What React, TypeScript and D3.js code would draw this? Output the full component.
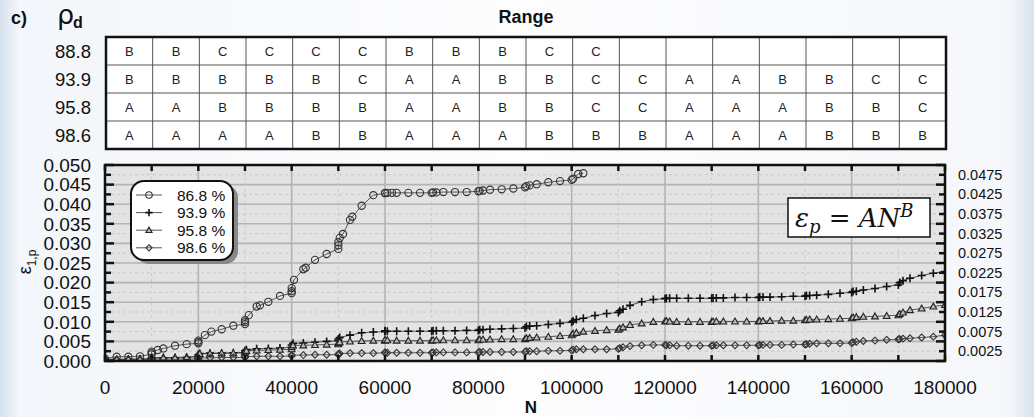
import React from "react";
import * as d3 from "d3";

// ---------- data ----------
const rowLabels = ["88.8", "93.9", "95.8", "98.6"];
const rangeRows: string[][] = [
  ["B","B","C","C","C","C","B","B","B","C","C","","","","","","",""],
  ["B","B","B","B","B","C","A","A","B","B","C","C","A","A","B","B","C","C"],
  ["A","A","B","B","B","B","A","A","B","B","C","C","A","A","A","B","B","C"],
  ["A","A","A","A","B","B","A","A","A","B","B","B","A","A","A","B","B","B"],
];
const seriesNames = ["86.8 %", "93.9 %", "95.8 %", "98.6 %"];
const xTicks = [0, 20000, 40000, 60000, 80000, 100000, 120000, 140000, 160000, 180000];
const yLeftTicks = [0, 0.005, 0.01, 0.015, 0.02, 0.025, 0.03, 0.035, 0.04, 0.045, 0.05];
const yRightTicks = [0.0025, 0.0075, 0.0125, 0.0175, 0.0225, 0.0275, 0.0325, 0.0375, 0.0425, 0.0475];

const s868: [number, number][] = [
  [0,0.0003],[0,0.0006],[2500,0.0011],[5000,0.0011],[7500,0.0012],[10000,0.0017],[10000,0.002],[10000,0.0024],
  [11300,0.0028],[12500,0.0032],[15000,0.0039],[17500,0.0043],[20000,0.0045],[20000,0.0048],[20000,0.0052],
  [21400,0.0066],[22800,0.0075],[25000,0.0081],[27500,0.009],[30000,0.0094],[30000,0.0099],[30000,0.0104],
  [30800,0.0117],[32500,0.0139],[33200,0.0142],[35000,0.0151],[37500,0.0166],[40000,0.0173],[40000,0.0178],
  [40000,0.0186],[40500,0.0207],[42500,0.0234],[43000,0.0238],[45000,0.0258],[47500,0.0273],[50000,0.0286],
  [50000,0.0295],[50000,0.0303],[50300,0.0314],[51000,0.0324],[52500,0.036],[53000,0.0368],[55000,0.0396],
  [57500,0.0423],[60000,0.0428],[60000,0.0429],[60500,0.0429],[61500,0.0429],[62500,0.0429],[65000,0.0429],
  [67500,0.0429],[70000,0.0429],[70300,0.043],[71000,0.043],[72500,0.0431],[75000,0.0431],[77500,0.0431],
  [80000,0.0433],[80300,0.0434],[81000,0.0435],[82500,0.0437],[85000,0.0438],[87500,0.044],[90000,0.0443],
  [90300,0.0446],[91000,0.0448],[92500,0.0451],[95000,0.0456],[97500,0.0459],[100000,0.0462],[100300,0.0465],
  [101400,0.0477],[102500,0.0479],
];
const s939: [number, number][] = [
  [0,0.0003],[0,0.0005],[2500,0.0004],[5000,0.0004],[7500,0.0005],[10000,0.0005],[10000,0.0008],[12500,0.0008],
  [15000,0.0008],[17500,0.0009],[20000,0.0012],[20000,0.0016],[20300,0.0019],[22500,0.002],[25000,0.002],
  [27500,0.0021],[30000,0.0022],[30000,0.0026],[30300,0.0029],[32500,0.0031],[35000,0.0032],[37500,0.0033],
  [40000,0.0035],[40000,0.0041],[40300,0.0045],[42500,0.0046],[45000,0.0048],[47500,0.005],[50000,0.0052],
  [50000,0.0056],[50300,0.006],[52500,0.0066],[55000,0.0072],[57500,0.0074],[60000,0.0075],[60000,0.0077],
  [60500,0.0076],[62500,0.0076],[65000,0.0076],[67500,0.0076],[70000,0.0076],[70300,0.0077],[71000,0.0077],
  [72500,0.0077],[75000,0.0077],[77500,0.0078],[80000,0.0078],[80300,0.008],[81000,0.008],[82500,0.0081],
  [85000,0.0082],[87500,0.0083],[90000,0.0084],[90300,0.0088],[91000,0.0089],[92500,0.009],[95000,0.0093],
  [97500,0.0096],[100000,0.0099],[100300,0.0102],[101000,0.0106],[102500,0.0109],[105000,0.0116],
  [107500,0.0121],[110000,0.0124],[110300,0.0128],[111000,0.0132],[112500,0.0142],[115000,0.0151],
  [117500,0.0157],[120000,0.0159],[120300,0.016],[121000,0.016],[122500,0.016],[125000,0.016],[127500,0.016],
  [130000,0.016],[130300,0.0161],[131000,0.0161],[132500,0.0161],[135000,0.0162],[137500,0.0162],
  [140000,0.0162],[140300,0.0163],[141000,0.0163],[142500,0.0163],[145000,0.0164],[147500,0.0165],
  [150000,0.0165],[150300,0.0167],[151000,0.0167],[152500,0.0168],[155000,0.017],[157500,0.0173],
  [160000,0.0175],[160300,0.0177],[161000,0.0178],[162500,0.0181],[165000,0.0185],[167500,0.019],
  [170000,0.0194],[170300,0.02],[171000,0.0205],[172500,0.0211],[175000,0.0218],[177500,0.0224],[180000,0.0228],
];
const s958: [number, number][] = [
  [0,0.0002],[0,0.0004],[2500,0.0004],[5000,0.0005],[7500,0.0005],[10000,0.0006],[10000,0.0008],[12500,0.0009],
  [15000,0.0009],[17500,0.001],[20000,0.0012],[20000,0.0016],[20300,0.0018],[22500,0.0019],[25000,0.002],
  [27500,0.002],[30000,0.0021],[30000,0.0024],[30300,0.0026],[32500,0.0027],[35000,0.0028],[37500,0.0029],
  [40000,0.003],[40000,0.0036],[40300,0.004],[42500,0.004],[45000,0.0041],[47500,0.0042],[50000,0.0043],
  [50000,0.0046],[50300,0.0048],[52500,0.005],[55000,0.0051],[57500,0.0052],[60000,0.0052],[60000,0.0054],
  [60500,0.0053],[62500,0.0052],[65000,0.0052],[67500,0.0052],[70000,0.0052],[70300,0.0053],[71000,0.0053],
  [72500,0.0053],[75000,0.0053],[77500,0.0053],[80000,0.0053],[80300,0.0055],[81000,0.0055],[82500,0.0055],
  [85000,0.0056],[87500,0.0056],[90000,0.0056],[90300,0.0058],[91000,0.0059],[92500,0.006],[95000,0.0062],
  [97500,0.0064],[100000,0.0066],[100300,0.007],[101000,0.0072],[102500,0.0075],[105000,0.0077],
  [107500,0.0079],[110000,0.008],[110300,0.0083],[111000,0.0086],[112500,0.0092],[115000,0.0096],
  [117500,0.01],[120000,0.0101],[120300,0.0102],[121000,0.0101],[122500,0.01],[125000,0.01],[127500,0.01],
  [130000,0.01],[130300,0.0101],[131000,0.0101],[132500,0.0101],[135000,0.0101],[137500,0.0101],
  [140000,0.0101],[140300,0.0102],[141000,0.0102],[142500,0.0102],[145000,0.0103],[147500,0.0103],
  [150000,0.0104],[150300,0.0105],[151000,0.0106],[152500,0.0106],[155000,0.0107],[157500,0.0108],
  [160000,0.0109],[160300,0.0111],[161000,0.0112],[162500,0.0113],[165000,0.0114],[167500,0.0115],
  [170000,0.0117],[170300,0.012],[171000,0.0124],[172500,0.013],[175000,0.0134],[177500,0.0139],[180000,0.0143],
];
const s986: [number, number][] = [
  [0,0.0002],[2500,0.0003],[5000,0.0003],[7500,0.0003],[10000,0.0003],[10000,0.0005],[12500,0.0005],
  [15000,0.0005],[17500,0.0005],[20000,0.0006],[20000,0.0008],[22500,0.0008],[25000,0.0009],[27500,0.0009],
  [30000,0.0009],[30000,0.0011],[32500,0.0012],[35000,0.0012],[37500,0.0012],[40000,0.0013],[40000,0.0015],
  [42500,0.0015],[45000,0.0016],[47500,0.0016],[50000,0.0016],[50000,0.0018],[50300,0.0019],[52500,0.002],
  [55000,0.002],[57500,0.002],[60000,0.0021],[60000,0.0022],[60500,0.0021],[62500,0.0021],[65000,0.0021],
  [67500,0.0021],[70000,0.0021],[70300,0.0022],[71000,0.0022],[72500,0.0022],[75000,0.0022],[77500,0.0022],
  [80000,0.0022],[80300,0.0023],[81000,0.0023],[82500,0.0023],[85000,0.0023],[87500,0.0023],[90000,0.0023],
  [90300,0.0025],[91000,0.0025],[92500,0.0025],[95000,0.0026],[97500,0.0026],[100000,0.0027],[100300,0.0029],
  [101000,0.003],[102500,0.003],[105000,0.003],[107500,0.003],[110000,0.0031],[110300,0.0033],[111000,0.0035],
  [112500,0.0038],[115000,0.004],[117500,0.0041],[120000,0.0041],[120300,0.004],[121000,0.004],[122500,0.0039],
  [125000,0.0039],[127500,0.0039],[130000,0.0039],[130300,0.004],[131000,0.004],[132500,0.004],[135000,0.004],
  [137500,0.004],[140000,0.004],[140300,0.0041],[141000,0.0041],[142500,0.0041],[145000,0.0041],
  [147500,0.0042],[150000,0.0042],[150300,0.0043],[151000,0.0044],[152500,0.0045],[155000,0.0045],
  [157500,0.0045],[160000,0.0046],[160300,0.0048],[161000,0.0049],[162500,0.0051],[165000,0.0052],
  [167500,0.0054],[170000,0.0055],[170300,0.0056],[171000,0.0057],[172500,0.0058],[175000,0.006],
  [177500,0.0062],[180000,0.0066],
];

// ---------- layout ----------
const W = 1034, H = 417;
const PL = 105, PR = 945, PT = 165, PB = 361;
const TT = 37, TB = 149;
const FONT = "'Liberation Sans', Arial, sans-serif";

type Kind = "circle" | "plus" | "tri" | "diamond";

function Marker({ kind, x, y, s = 1 }: { kind: Kind; x: number; y: number; s?: number }) {
  if (kind === "circle")
    return <circle cx={x} cy={y} r={3.6 * s} fill="none" stroke="#333" strokeWidth={1.1} />;
  if (kind === "plus") {
    const a = 4 * s;
    return (
      <path d={`M${x - a},${y}H${x + a}M${x},${y - a}V${y + a}`} stroke="#111" strokeWidth={1.6} />
    );
  }
  if (kind === "tri") {
    const a = 3.4 * s;
    return (
      <path
        d={`M${x},${y - a}L${x + a},${y + a * 0.75}L${x - a},${y + a * 0.75}Z`}
        fill="#bbb"
        stroke="#222"
        strokeWidth={1.1}
      />
    );
  }
  const a = 3.4 * s;
  return (
    <path
      d={`M${x},${y - a}L${x + a},${y}L${x},${y + a}L${x - a},${y}Z`}
      fill="none"
      stroke="#333"
      strokeWidth={1.1}
    />
  );
}

export default function App() {
  const x = d3.scaleLinear().domain([0, 180000]).range([PL, PR]);
  const y = d3.scaleLinear().domain([0, 0.05]).range([PB, PT]);
  const line = d3
    .line<[number, number]>()
    .x((d) => x(d[0]))
    .y((d) => y(d[1]));

  const series: { data: [number, number][]; kind: Kind }[] = [
    { data: s868, kind: "circle" },
    { data: s939, kind: "plus" },
    { data: s958, kind: "tri" },
    { data: s986, kind: "diamond" },
  ];

  const nCols = rangeRows[0].length;
  const col = d3.scaleLinear().domain([0, nCols]).range([PL + 1, PR + 1]);
  const row = d3.scaleLinear().domain([0, rowLabels.length]).range([TT, TB]);

  const minorX = d3.range(0, 180001, 10000);
  const minorY = d3.range(0, 21).map((i) => i * 0.0025);

  return (
    <svg
      width={W}
      height={H}
      style={{ position: "absolute", left: 0, top: 0, display: "block" }}
      fontFamily={FONT}
    >
      <defs>
        <linearGradient id="bg" x1="0" x2="1" y1="0" y2="0">
          <stop offset="0" stopColor="#d5e1ee" />
          <stop offset="0.018" stopColor="#f3f6fa" />
          <stop offset="0.5" stopColor="#fdfdfe" />
          <stop offset="0.975" stopColor="#f5f7fa" />
          <stop offset="1" stopColor="#d9e3ec" />
        </linearGradient>
        <clipPath id="plotclip">
          <rect x={PL} y={PT} width={PR - PL} height={PB - PT} />
        </clipPath>
      </defs>
      <rect x={0} y={0} width={W} height={H} fill="url(#bg)" />

      {/* titles */}
      <text x={11} y={24} fontSize={18} fontWeight="bold" fill="#111">c)</text>
      <text x={57} y={24} fontSize={27} fill="#111" fontFamily="'DejaVu Sans', sans-serif">ρ</text>
      <text x={73} y={28} fontSize={16} fontWeight="bold" fill="#111">d</text>
      <text x={(PL + PR) / 2 + 1} y={23} fontSize={18} fontWeight="bold" textAnchor="middle" fill="#111">
        Range
      </text>

      {/* table */}
      <rect x={PL + 1} y={TT} width={PR - PL} height={TB - TT} fill="#fff" />
      {rangeRows.map((r, i) =>
        r.map((c, j) => (
          <text
            key={`t${i}-${j}`}
            x={(col(j) + col(j + 1)) / 2}
            y={(row(i) + row(i + 1)) / 2 + 5}
            fontSize={13}
            textAnchor="middle"
            fill="#222"
          >
            {c}
          </text>
        ))
      )}
      {d3.range(1, nCols).map((j) => (
        <line key={`vc${j}`} x1={col(j)} x2={col(j)} y1={TT} y2={TB} stroke="#555" strokeWidth={1} />
      ))}
      {d3.range(1, rowLabels.length).map((i) => (
        <line key={`hr${i}`} x1={PL + 1} x2={PR + 1} y1={row(i)} y2={row(i)} stroke="#555" strokeWidth={1} />
      ))}
      <rect x={PL + 1} y={TT} width={PR - PL} height={TB - TT} fill="none" stroke="#111" strokeWidth={2.5} />
      {rowLabels.map((l, i) => (
        <text key={`rl${i}`} x={91} y={(row(i) + row(i + 1)) / 2 + 6.5} fontSize={18.5} textAnchor="end" fill="#111">
          {l}
        </text>
      ))}

      {/* plot background */}
      <rect x={PL} y={PT} width={PR - PL} height={PB - PT} fill="#e3e3e3" />
      <g clipPath="url(#plotclip)">
        {minorY.map((v, i) => (
          <line
            key={`gy${i}`}
            x1={PL}
            x2={PR}
            y1={y(v)}
            y2={y(v)}
            stroke={i % 2 === 0 ? "#b4b4b4" : "#c9c9c9"}
            strokeWidth={i % 2 === 0 ? 1.6 : 1}
            strokeDasharray={i % 2 === 0 ? undefined : "3,3"}
          />
        ))}
        {minorX.map((v, i) => (
          <line
            key={`gx${i}`}
            x1={x(v)}
            x2={x(v)}
            y1={PT}
            y2={PB}
            stroke={i % 2 === 0 ? "#b4b4b4" : "#cacaca"}
            strokeWidth={i % 2 === 0 ? 1.6 : 1}
            strokeDasharray={i % 2 === 0 ? undefined : "3,3"}
          />
        ))}
        {series.map((s, k) => (
          <path key={`l${k}`} d={line(s.data) || ""} fill="none" stroke="#444" strokeWidth={0.9} />
        ))}
        {series.map((s, k) => (
          <g key={`m${k}`}>
            {s.data.map((d, i) => (
              <Marker key={i} kind={s.kind} x={x(d[0])} y={y(d[1])} />
            ))}
          </g>
        ))}
      </g>

      {/* frame ticks */}
      {minorX.map((v, i) => (
        <g key={`tx${i}`}>
          <line x1={x(v)} x2={x(v)} y1={PT} y2={PT + 6} stroke="#111" strokeWidth={2.5} />
          <line x1={x(v)} x2={x(v)} y1={PB} y2={PB - 6} stroke="#111" strokeWidth={2.5} />
        </g>
      ))}
      {minorY.map((v, i) => (
        <g key={`ty${i}`}>
          <line x1={PL} x2={PL + (i % 2 === 0 ? 9 : 6)} y1={y(v)} y2={y(v)} stroke="#111" strokeWidth={2.5} />
          <line x1={PR} x2={PR - (i % 2 === 0 ? 9 : 6)} y1={y(v)} y2={y(v)} stroke="#111" strokeWidth={2.5} />
        </g>
      ))}
      <rect x={PL} y={PT} width={PR - PL} height={PB - PT} fill="none" stroke="#111" strokeWidth={2.5} />

      {/* axis labels */}
      {yLeftTicks.map((v, i) => (
        <text key={`yl${i}`} x={91} y={y(v) + 6.8} fontSize={19} textAnchor="end" fill="#111">
          {d3.format(".3f")(v)}
        </text>
      ))}
      {yRightTicks.map((v, i) => (
        <text key={`yr${i}`} x={958} y={y(v) + 5} fontSize={14.5} textAnchor="start" fill="#111">
          {d3.format(".4f")(v)}
        </text>
      ))}
      {xTicks.map((v, i) => (
        <text key={`xl${i}`} x={x(v)} y={394} fontSize={19} textAnchor="middle" fill="#111">
          {v}
        </text>
      ))}
      <text x={(PL + PR) / 2 + 6} y={413} fontSize={17} fontWeight="bold" textAnchor="middle" fill="#111">
        N
      </text>
      <text transform={`translate(31,262) rotate(-90)`} fontSize={18} textAnchor="middle" fill="#111">
        ε<tspan fontSize={12} dy={5}>1,p</tspan>
      </text>

      {/* legend */}
      <rect x={136} y={185} width={102} height={79} rx={13} fill="#888" />
      <rect x={131} y={181} width={102} height={79} rx={13} fill="#fff" stroke="#111" strokeWidth={2} />
      {seriesNames.map((n, i) => {
        const ly = 195 + i * 17.6;
        return (
          <g key={`lg${i}`}>
            <line x1={136} x2={162} y1={ly} y2={ly} stroke="#444" strokeWidth={0.9} />
            <Marker kind={series[i].kind} x={149} y={ly} s={0.9} />
            <text x={177} y={ly + 5.5} fontSize={15.5} fill="#111">
              {n}
            </text>
          </g>
        );
      })}

      {/* formula */}
      <rect x={788} y={198} width={142} height={39} fill="#fff" stroke="#111" strokeWidth={1.5} />
      <text x={795} y={227} fontSize={26} fill="#111" fontFamily="'DejaVu Serif', 'Liberation Serif', serif">
        <tspan fontStyle="italic">ε</tspan>
        <tspan fontStyle="italic" fontSize={18} dy={6}>p</tspan>
        <tspan dy={-6}> = </tspan>
        <tspan fontStyle="italic">AN</tspan>
        <tspan fontStyle="italic" fontSize={18} dy={-10}>B</tspan>
      </text>
    </svg>
  );
}
